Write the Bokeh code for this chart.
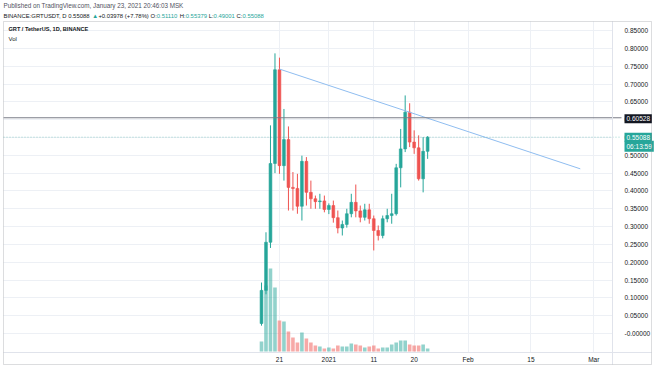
import pandas as pd
from bokeh.plotting import figure
from bokeh.models import (Range1d, FixedTicker, PrintfTickFormatter, Label,
                          BoxAnnotation, ColumnDataSource)
from bokeh.embed import file_html
from bokeh.resources import INLINE

# ---------------- data ----------------
dates = list(pd.date_range("2020-12-17", "2021-01-23", freq="D"))
opens = [0.028, 0.121, 0.256, 0.477, 0.740, 0.471, 0.544, 0.410, 0.407, 0.357,
         0.483, 0.396, 0.378, 0.370, 0.372, 0.348, 0.359, 0.325, 0.296, 0.306,
         0.336, 0.368, 0.344, 0.326, 0.347, 0.322, 0.289, 0.275, 0.322, 0.331,
         0.336, 0.465, 0.518, 0.621, 0.537, 0.521, 0.434, 0.5111]
highs = [0.143, 0.284, 0.584, 0.786, 0.774, 0.630, 0.581, 0.453, 0.448, 0.499,
         0.495, 0.429, 0.387, 0.392, 0.387, 0.365, 0.373, 0.345, 0.317, 0.350,
         0.392, 0.418, 0.359, 0.364, 0.364, 0.331, 0.303, 0.331, 0.350, 0.392,
         0.476, 0.574, 0.668, 0.646, 0.570, 0.556, 0.551, 0.55379]
lows = [0.022, 0.110, 0.240, 0.450, 0.448, 0.429, 0.345, 0.345, 0.336, 0.317,
        0.359, 0.350, 0.350, 0.350, 0.340, 0.335, 0.311, 0.281, 0.275, 0.297,
        0.326, 0.326, 0.312, 0.317, 0.308, 0.233, 0.261, 0.267, 0.312, 0.308,
        0.331, 0.410, 0.509, 0.523, 0.504, 0.429, 0.396, 0.49001]
closes = [0.121, 0.256, 0.477, 0.740, 0.471, 0.544, 0.410, 0.407, 0.357, 0.483,
          0.396, 0.378, 0.370, 0.372, 0.348, 0.359, 0.325, 0.296, 0.306, 0.336,
          0.368, 0.344, 0.326, 0.347, 0.322, 0.289, 0.275, 0.322, 0.331, 0.336,
          0.465, 0.518, 0.621, 0.537, 0.521, 0.434, 0.5111, 0.55088]
volumes = [40, 264, 332, 256, 124, 120, 80, 56, 36, 76, 52, 36, 24, 20, 12, 16,
           12, 24, 20, 20, 32, 28, 24, 16, 20, 24, 12, 16, 16, 28, 36, 44, 44,
           28, 24, 24, 28, 12]  # millions

price_ticks = [0.0, 0.05, 0.10, 0.15, 0.20, 0.25, 0.30, 0.35, 0.40, 0.45,
               0.50, 0.55, 0.60, 0.65, 0.70, 0.75, 0.80, 0.85]
x_tick_dates = ["2020-12-21", "2021-01-01", "2021-01-11", "2021-01-20",
                "2021-02-01", "2021-02-15", "2021-03-01"]
x_tick_labels = ["21", "2021", "11", "20", "Feb", "15", "Mar"]

trend_dates = [pd.Timestamp("2020-12-21"), pd.Timestamp("2021-02-26")]
trend_prices = [0.742, 0.462]
hline_price = 0.60528
last_price = 0.55088
countdown = "06:13:59"

GREEN = "#26a69a"
RED = "#ef5350"
TXT = "#131722"
FONT = "Liberation Sans"

# ---------------- layout helpers (pixel placement -> data space) ----------------
T0 = pd.Timestamp("2020-12-17")
DAY_PX, T0_PX = 4.49, 261.0
PRICE_PX, ZERO_PX = 356.4, 333.0
VOL_PX, VOL0_PX = 4.0, 351.0
W, H = 654, 366


def xd(px):
    return T0 + pd.Timedelta(days=(px - T0_PX) / DAY_PX)


def yp(px):
    return (ZERO_PX - px) / PRICE_PX


def ms(t):
    return t.value / 1e6


p = figure(width=W, height=H, x_axis_type="datetime", y_axis_location="right",
           x_range=Range1d(xd(0), xd(W)), y_range=Range1d(yp(H), yp(0)),
           output_backend="svg", toolbar_location=None, title=None,
           min_border=0)
p.min_border_left = p.min_border_right = p.min_border_top = p.min_border_bottom = 0
p.extra_y_ranges = {"vol": Range1d(-(H - VOL0_PX) * VOL_PX, VOL0_PX * VOL_PX)}
p.outline_line_color = None
p.background_fill_color = "white"
p.border_fill_color = "white"

src = ColumnDataSource(dict(
    date=dates, open=opens, high=highs, low=lows, close=closes, vol=volumes,
    top=[max(o, c) for o, c in zip(opens, closes)],
    bottom=[min(o, c) for o, c in zip(opens, closes)],
    color=[GREEN if c >= o else RED for o, c in zip(opens, closes)],
))

day_ms = 86400000
p.vbar(x="date", width=0.8 * day_ms, top="vol", bottom=0, y_range_name="vol",
       source=src, fill_color="color", fill_alpha=0.5, line_color=None)
p.segment(x0="date", x1="date", y0="low", y1="high", source=src,
          line_color="color", line_width=1)
p.vbar(x="date", width=0.62 * day_ms, top="top", bottom="bottom", source=src,
       fill_color="color", line_color="color", line_width=0.6)

p.line(x=trend_dates, y=trend_prices, line_color="#8fbdf0", line_width=1)

# horizontal price lines (stop at the price tags)
p.segment(x0=[xd(3)], x1=[xd(621)], y0=[hline_price], y1=[hline_price],
          line_color="#787b86", line_width=1)
p.segment(x0=[xd(3)], x1=[xd(621)], y0=[last_price], y1=[last_price],
          line_color=GREEN, line_alpha=0.45, line_width=1, line_dash="1 2")

# axes (drawn at fixed positions inside the canvas)
ya = p.yaxis[0]
ya.fixed_location = ms(xd(612))
ya.bounds = (yp(364), yp(21))
ya.ticker = FixedTicker(ticks=price_ticks)
ya.formatter = PrintfTickFormatter(format="%.5f")
ya.major_label_overrides = {0: "-0.00000"}
ya.major_tick_line_color = None
ya.major_tick_out = 0
ya.minor_tick_line_color = None
ya.axis_line_color = "#e0e3eb"
ya.major_label_text_font_size = "6.5px"
ya.major_label_text_font = FONT
ya.major_label_text_color = TXT
ya.major_label_standoff = 12

tick_ms = [pd.Timestamp(d).value / 1e6 for d in x_tick_dates]
xa = p.xaxis[0]
xa.fixed_location = yp(352)
xa.bounds = (ms(xd(3)), ms(xd(651)))
xa.ticker = FixedTicker(ticks=tick_ms)
xa.major_label_overrides = {t: l for t, l in zip(tick_ms, x_tick_labels)}
xa.major_tick_line_color = None
xa.major_tick_out = 0
xa.minor_tick_line_color = None
xa.axis_line_color = "#e0e3eb"
xa.major_label_text_font_size = "6.5px"
xa.major_label_text_font = FONT
xa.major_label_text_color = TXT
xa.major_label_standoff = 3

p.xgrid.grid_line_color = "#edf0f5"
p.ygrid.grid_line_color = "#edf0f5"
p.xgrid.cross_bounds = (yp(352), yp(21))
p.ygrid.cross_bounds = (ms(xd(3)), ms(xd(612)))

# price tags on the axis
def tag(y, text, color, y_off=0):
    p.add_layout(Label(x=624, x_units="screen", y=y, y_offset=y_off, text=text,
                       text_color="white", background_fill_color=color,
                       text_font_size="6.5px", text_font=FONT,
                       text_baseline="middle", padding=2))

tag(hline_price, "0.60528", TXT, -1)
tag(last_price, "0.55088", GREEN)
tag(last_price, countdown, GREEN, -9)


# texts (screen units: from bottom-left of the canvas)
def lab(x, y_top, t, color=TXT, size="6px", style="normal"):
    p.add_layout(Label(x=x, y=H - y_top, x_units="screen", y_units="screen",
                       text=t, text_color=color, text_font_size=size,
                       text_font=FONT, text_baseline="middle",
                       text_font_style=style))


lab(3, 5, "Published on TradingView.com, January 23, 2021 20:46:03 MSK", "#50535e",
    "6.3px")
segs = [(3, "BINANCE:GRTUSDT, D 0.55088", TXT), (91.7, "\u25b2", GREEN),
        (97.9, "+0.03978 (+7.78%)", TXT), (150.1, "O:", TXT),
        (156.3, "0.51110", GREEN), (179.3, "H:", TXT), (185.2, "0.55379", GREEN),
        (208.2, "L:", TXT), (213.1, "0.49001", GREEN), (236.1, "C:", TXT),
        (242.0, "0.55088", GREEN)]
for sx, t, c in segs:
    lab(sx, 15, t, c, "5.9px")
lab(8, 28, "GRT / TetherUS, 1D, BINANCE", TXT, "5.6px", "bold")
lab(8, 38, "Vol", TXT, "6px")

# outer frame of the chart
p.add_layout(BoxAnnotation(left=3, right=651, top=H - 21, bottom=H - 364,
                           left_units="screen", right_units="screen",
                           top_units="screen", bottom_units="screen",
                           fill_color=None, line_color="#8a8d96", line_width=1))

open("out.html", "w").write(file_html(p, INLINE))
